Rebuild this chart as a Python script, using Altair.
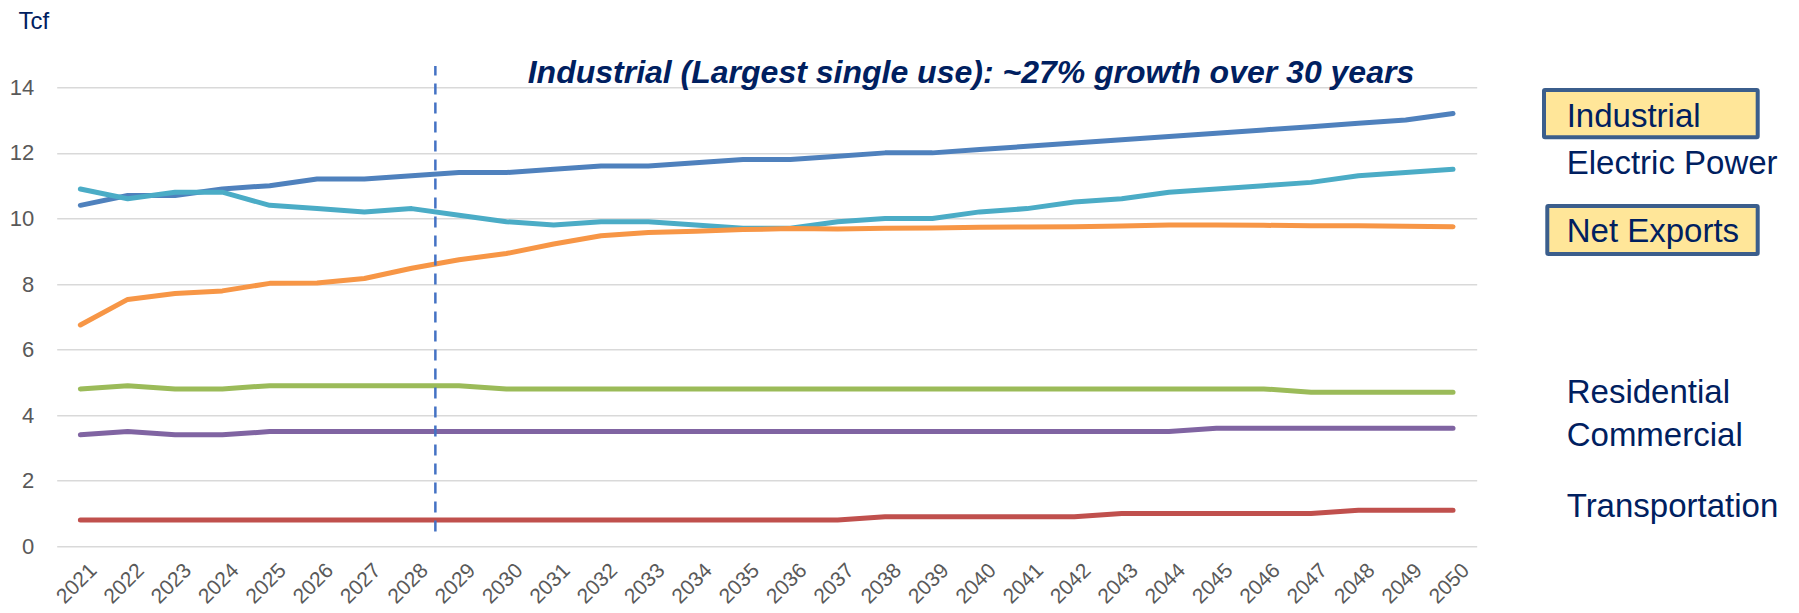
import altair as alt
import pandas as pd

# ---------------- data (Tcf) ----------------
years = list(range(2021, 2051))

industrial = [10.4, 10.7, 10.7, 10.9, 11.0, 11.2, 11.2, 11.3, 11.4, 11.4,
              11.5, 11.6, 11.6, 11.7, 11.8, 11.8, 11.9, 12.0, 12.0, 12.1,
              12.2, 12.3, 12.4, 12.5, 12.6, 12.7, 12.8, 12.9, 13.0, 13.2]
electric_power = [10.9, 10.6, 10.8, 10.8, 10.4, 10.3, 10.2, 10.3, 10.1, 9.9,
                  9.8, 9.9, 9.9, 9.8, 9.7, 9.7, 9.9, 10.0, 10.0, 10.2,
                  10.3, 10.5, 10.6, 10.8, 10.9, 11.0, 11.1, 11.3, 11.4, 11.5]
net_exports = [6.75, 7.53, 7.71, 7.79, 8.02, 8.03, 8.17, 8.48, 8.74, 8.93,
               9.22, 9.47, 9.57, 9.61, 9.66, 9.69, 9.68, 9.70, 9.71, 9.73,
               9.74, 9.75, 9.77, 9.80, 9.80, 9.79, 9.78, 9.78, 9.76, 9.75]
residential = [4.8, 4.9, 4.8, 4.8, 4.9, 4.9, 4.9, 4.9, 4.9, 4.8,
               4.8, 4.8, 4.8, 4.8, 4.8, 4.8, 4.8, 4.8, 4.8, 4.8,
               4.8, 4.8, 4.8, 4.8, 4.8, 4.8, 4.7, 4.7, 4.7, 4.7]
commercial = [3.4, 3.5, 3.4, 3.4, 3.5, 3.5, 3.5, 3.5, 3.5, 3.5,
              3.5, 3.5, 3.5, 3.5, 3.5, 3.5, 3.5, 3.5, 3.5, 3.5,
              3.5, 3.5, 3.5, 3.5, 3.6, 3.6, 3.6, 3.6, 3.6, 3.6]
transportation = [0.8, 0.8, 0.8, 0.8, 0.8, 0.8, 0.8, 0.8, 0.8, 0.8,
                  0.8, 0.8, 0.8, 0.8, 0.8, 0.8, 0.8, 0.9, 0.9, 0.9,
                  0.9, 0.9, 1.0, 1.0, 1.0, 1.0, 1.0, 1.1, 1.1, 1.1]

series_names = ["Industrial", "Electric Power", "Net Exports",
                "Residential", "Commercial", "Transportation"]
series_values = [industrial, electric_power, net_exports,
                 residential, commercial, transportation]
series_colors = ["#4F81BD", "#4BACC6", "#F79646", "#9BBB59", "#8064A2", "#C0504D"]

y_ticks = [0, 2, 4, 6, 8, 10, 12, 14]
divider_year = 2028.5          # forecast divider between 2028 and 2029
divider_span = [0.45, 14.65]

title_text = "Industrial (Largest single use): ~27% growth over 30 years"
unit_text = "Tcf"

# ---------------- layout (pixels, relative to plot origin) ----------------
W, H = 1420, 459
PAD_L, PAD_T = 56.7, 87.3
FONT = "Liberation Sans, Arial, sans-serif"
NAVY = "#002060"

label_x = 1510
label_baselines = {"Industrial": 39.4, "Electric Power": 87.0, "Net Exports": 154.4,
                   "Residential": 315.7, "Commercial": 358.7, "Transportation": 429.4}
boxed = {"Industrial": (1487.3, 1701, 2.7, 50), "Net Exports": (1490.6, 1701, 118.7, 166.7)}

rows = []
for name, vals in zip(series_names, series_values):
    for yr, v in zip(years, vals):
        rows.append({"year": yr, "value": v, "series": name})
df = pd.DataFrame(rows)

x_scale = alt.Scale(domain=[2020.5, 2050.5], nice=False, zero=False)
y_scale = alt.Scale(domain=[0, 14], nice=False)

lines = alt.Chart(df).mark_line(strokeWidth=5, strokeCap="round", strokeJoin="round").encode(
    x=alt.X("year:Q", scale=x_scale,
            axis=alt.Axis(values=years, format="d", grid=False, domain=False, ticks=False,
                          labelAngle=315, labelAlign="right", labelBaseline="top",
                          labelPadding=13, labelOffset=5, labelFontSize=21,
                          labelColor="#595959", labelFont=FONT, labelOverlap=False,
                          title=None)),
    y=alt.Y("value:Q", scale=y_scale,
            axis=alt.Axis(values=y_ticks, grid=True, gridColor="#D9D9D9", gridWidth=1.6,
                          domain=False, ticks=False, labelPadding=23, labelFontSize=22,
                          labelColor="#595959", labelFont=FONT, title=None)),
    color=alt.Color("series:N", scale=alt.Scale(domain=series_names, range=series_colors),
                    legend=None),
    order=alt.Order("year:Q"),
)

rule_df = pd.DataFrame({"x": [divider_year], "y": [divider_span[0]], "y2": [divider_span[1]]})
divider = alt.Chart(rule_df).mark_rule(color="#4472C4", strokeWidth=2.5,
                                       strokeDash=[11, 8]).encode(
    x=alt.X("x:Q", scale=x_scale), y=alt.Y("y:Q", scale=y_scale), y2="y2:Q")

one = pd.DataFrame({"k": [0]})
layers = [lines, divider]

layers.append(alt.Chart(one).mark_text(
    text=title_text, font=FONT, fontSize=32, fontWeight="bold", fontStyle="italic",
    color=NAVY, align="left", baseline="alphabetic").encode(
    x=alt.value(471), y=alt.value(-4)))

layers.append(alt.Chart(one).mark_text(
    text=unit_text, font=FONT, fontSize=24, color=NAVY, align="left",
    baseline="alphabetic").encode(x=alt.value(-38.3), y=alt.value(-58)))

for name, (x0, x1, y0, y1) in boxed.items():
    layers.append(alt.Chart(one).mark_rect(fill="#FFE699", stroke="#3B5E8C",
                                           strokeWidth=4, cornerRadius=1).encode(
        x=alt.value(x0), x2=alt.value(x1), y=alt.value(y0), y2=alt.value(y1)))

for name in series_names:
    layers.append(alt.Chart(one).mark_text(
        text=name, font=FONT, fontSize=33, color=NAVY, align="left",
        baseline="alphabetic").encode(x=alt.value(label_x), y=alt.value(label_baselines[name])))

chart = alt.layer(*layers).properties(
    width=W, height=H,
    padding={"left": PAD_L, "top": PAD_T, "right": 1799 - PAD_L - W, "bottom": 613 - PAD_T - H},
    autosize=alt.AutoSizeParams(type="none"),
    background="white",
).configure_view(stroke=None)

chart.save("out.html", embed_options={"renderer": "svg", "actions": False})
